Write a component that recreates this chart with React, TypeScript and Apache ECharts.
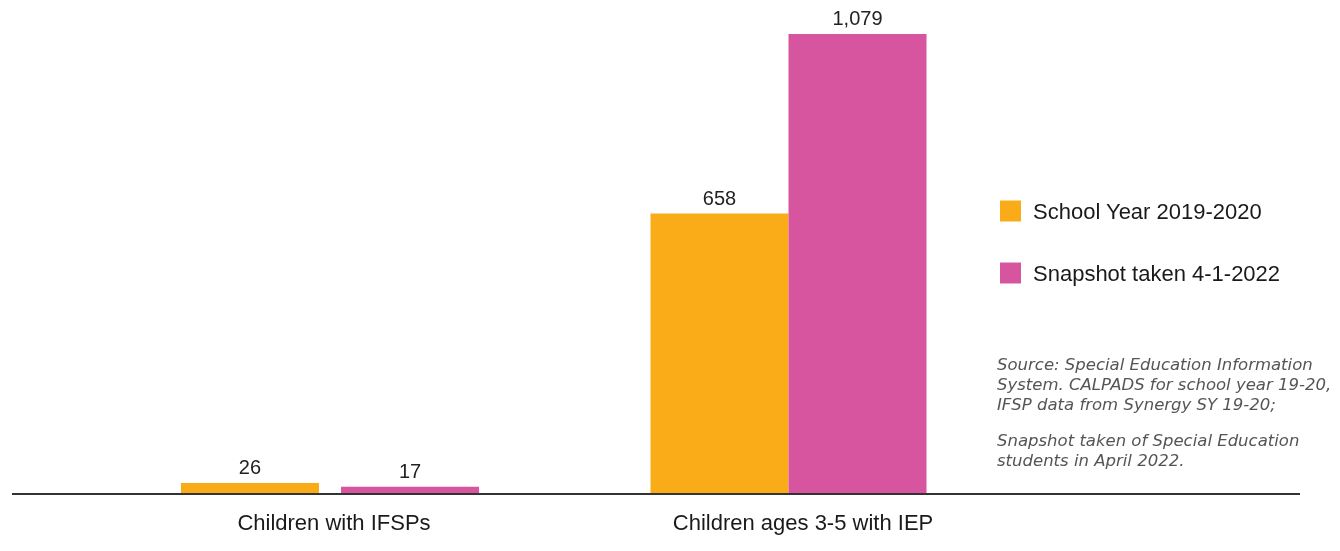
import React, { useEffect, useRef } from "react";
import * as echarts from "echarts";

const categories = ["Children with IFSPs", "Children ages 3-5 with IEP"];
const seriesNames = ["School Year 2019-2020", "Snapshot taken 4-1-2022"];
const schoolYearValues = [26, 658];
const snapshotValues = [17, 1079];
const colors = ["#FAAC18", "#D7559F"];
const sourceLines1 = [
  "Source: Special Education Information",
  "System. CALPADS for school year 19-20,",
  "IFSP data from Synergy SY 19-20;",
];
const sourceLines2 = ["Snapshot taken of Special Education", "students in April 2022."];

export default function App() {
  const ref = useRef<HTMLDivElement>(null);
  useEffect(() => {
    if (!ref.current) return;
    const chart = echarts.init(ref.current, null, { renderer: "svg" });
    const grids = [
      { left: 100, width: 460, top: 23, bottom: 57 },
      { left: 560, width: 457, top: 23, bottom: 57 },
    ];
    const gaps = ["16%", "0%"];
    const labelPads = [[0, 0, 0, 8], [0, 0, 0, 29]];
    const valueSets = [schoolYearValues, snapshotValues];
    const series: any[] = [];
    categories.forEach((cat, gi) => {
      valueSets.forEach((vals, si) => {
        series.push({
          type: "bar",
          name: seriesNames[si],
          xAxisIndex: gi,
          yAxisIndex: gi,
          data: [vals[gi]],
          barWidth: 138,
          barGap: gaps[gi],
          itemStyle: { color: colors[si] },
          label: {
            show: true,
            position: "top",
            distance: 6,
            fontSize: 20,
            fontFamily: "Liberation Sans, Arial, sans-serif",
            color: "#222",
            formatter: (p: any) => Number(p.value).toLocaleString("en-US"),
          },
        });
      });
    });
    chart.setOption({
      animation: false,
      grid: grids,
      xAxis: categories.map((c, gi) => ({
        type: "category",
        gridIndex: gi,
        data: [c],
        axisLine: { show: false },
        axisTick: { show: false },
        axisLabel: {
          fontSize: 22,
          margin: 17,
          color: "#1a1a1a",
          fontFamily: "Liberation Sans, Arial, sans-serif",
          padding: labelPads[gi],
        },
      })),
      yAxis: categories.map((c, gi) => ({
        type: "value",
        gridIndex: gi,
        min: 0,
        max: 1105,
        show: false,
        splitLine: { show: false },
      })),
      legend: {
        data: seriesNames,
        orient: "vertical",
        left: 995,
        top: 195,
        icon: "rect",
        itemWidth: 21,
        itemHeight: 21,
        itemGap: 40,
        selectedMode: false,
        textStyle: {
          fontSize: 22,
          color: "#1a1a1a",
          fontFamily: "Liberation Sans, Arial, sans-serif",
          padding: [0, 0, 0, 7],
        },
      },
      series,
      graphic: [
        {
          type: "line",
          shape: { x1: 12, y1: 494, x2: 1300, y2: 494 },
          style: { stroke: "#333", lineWidth: 2 },
          z: 10,
        },
        {
          type: "text",
          left: 997,
          top: 354,
          style: {
            text: sourceLines1.join("\n"),
            font: "italic 16.5px 'DejaVu Sans', sans-serif",
            lineHeight: 20,
            fill: "#555",
          },
        },
        {
          type: "text",
          left: 997,
          top: 430,
          style: {
            text: sourceLines2.join("\n"),
            font: "italic 16.5px 'DejaVu Sans', sans-serif",
            lineHeight: 20,
            fill: "#555",
          },
        },
      ],
    });
    return () => chart.dispose();
  }, []);
  return <div ref={ref} style={{ position: "fixed", left: 0, top: 0, width: 1340, height: 551 }} />;
}
